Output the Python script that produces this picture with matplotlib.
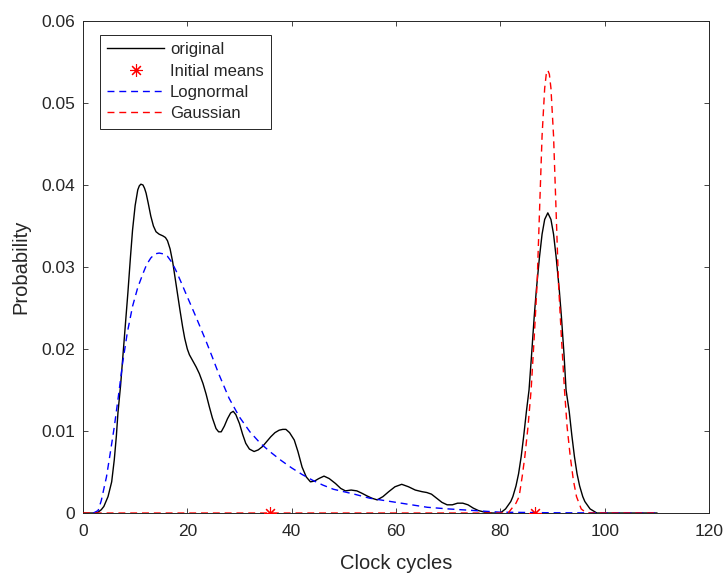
import numpy as np
from matplotlib import pyplot as plt

# data
orig_x = [0, 2.0, 2.9, 3.5, 4.0, 4.8, 5.5, 6.0, 6.4, 6.7, 7.2, 7.6, 8.1, 8.6, 9.1, 9.5,
          10.0, 10.5, 10.8, 11.1, 11.5, 11.8, 12.1, 12.5, 13.0, 13.5, 14.0, 14.6, 15.3,
          15.8, 16.2, 16.7, 17.2, 17.6, 18.1, 18.6, 19.1, 19.5, 20.0, 20.4, 21.0, 21.7,
          22.3, 23.0, 23.6, 24.2, 24.8, 25.5, 26.0, 26.5, 27.1, 27.7, 28.3, 28.8, 29.3,
          30.0, 30.6, 31.2, 31.9, 32.8, 33.6, 34.4, 35.2, 36.0, 36.8, 37.6, 38.3, 38.9,
          39.6, 40.5, 41.2, 42.0, 42.8, 43.6, 44.4, 45.2, 46.2, 47.2, 48.4, 49.4, 50.3,
          51.4, 52.5, 53.5, 54.4, 55.4, 56.4, 57.5, 58.6, 59.8, 61.1, 62.4, 63.7, 65.0,
          65.9, 66.8, 67.8, 68.8, 69.8, 70.8, 71.8, 72.8, 73.8, 74.8, 75.8, 77.0, 78.5,
          80.0, 81.0, 82.0, 82.4, 83.0, 83.5, 84.0, 84.5, 85.0, 85.5, 86.0, 86.5, 86.9,
          87.5, 88.0, 88.5, 89.1, 89.7, 90.2, 90.7, 91.3, 91.7, 92.2, 92.6, 93.2, 93.7,
          94.2, 94.7, 95.2, 95.8, 96.2, 97.2, 98.5, 100, 110]
orig_y = [0, 0, 0.0001, 0.0004, 0.0008, 0.0020, 0.0038, 0.0065, 0.0094, 0.0122, 0.0155,
          0.0187, 0.0228, 0.0268, 0.0312, 0.0345, 0.0375, 0.0394, 0.0399, 0.0401, 0.0400,
          0.0396, 0.0390, 0.0378, 0.0362, 0.0350, 0.0343, 0.0340, 0.0338, 0.0336, 0.0332,
          0.0322, 0.0306, 0.0289, 0.0268, 0.0247, 0.0227, 0.0213, 0.0200, 0.0193, 0.0186,
          0.0178, 0.0170, 0.0158, 0.0145, 0.0130, 0.0116, 0.0103, 0.0099, 0.0099, 0.0106,
          0.0115, 0.0122, 0.0124, 0.0120, 0.0109, 0.0096, 0.0085, 0.0078, 0.0075, 0.0077,
          0.0081, 0.0087, 0.0093, 0.0098, 0.0101, 0.0102, 0.0102, 0.0098, 0.0089, 0.0075,
          0.0056, 0.0044, 0.0038, 0.0039, 0.0042, 0.0045, 0.0042, 0.0036, 0.0030, 0.0027,
          0.0028, 0.0027, 0.0024, 0.0021, 0.0018, 0.0016, 0.0020, 0.0026, 0.0032, 0.0035,
          0.0032, 0.0028, 0.0026, 0.0025, 0.0023, 0.0018, 0.0013, 0.0010, 0.0010, 0.0012,
          0.0012, 0.0010, 0.0006, 0.0003, 0.0001, 0, 0, 0.0005, 0.0014, 0.0020, 0.0033,
          0.0048, 0.0069, 0.0095, 0.0124, 0.0150, 0.0194, 0.0240, 0.0272, 0.0312, 0.0340,
          0.0358, 0.0366, 0.0358, 0.0340, 0.0312, 0.0272, 0.0240, 0.0194, 0.0150, 0.0124,
          0.0095, 0.0069, 0.0048, 0.0033, 0.0020, 0.0014, 0.0005, 0, 0, 0]

logn_x = [2.0, 2.9, 3.5, 4.5, 5.2, 6.0, 6.8, 7.6, 8.5, 9.5, 10.5, 11.5, 12.2, 13.0, 13.8,
          14.6, 15.4, 16.2, 17.0, 17.8, 18.7, 19.7, 21.6, 23.5, 24.8, 26.0, 28.0, 30.0,
          32.0, 34.0, 36.0, 38.0, 40.0, 42.0, 44.0, 46.0, 48.0, 50.0, 52.0, 55.0, 58.0,
          62.0, 66.0, 70.0, 75.0, 80.0, 90.0, 110.0]
logn_y = [0, 0.0003, 0.0015, 0.0044, 0.0072, 0.0105, 0.0143, 0.0183, 0.0220, 0.0252,
          0.0275, 0.0292, 0.0303, 0.0311, 0.0316, 0.0317, 0.0316, 0.0313, 0.0306, 0.0296,
          0.0283, 0.0268, 0.0240, 0.0211, 0.0190, 0.0170, 0.0140, 0.0117, 0.0099, 0.0085,
          0.0074, 0.0064, 0.0055, 0.0047, 0.0040, 0.0034, 0.0029, 0.0026, 0.0023, 0.0018,
          0.0015, 0.0011, 0.0007, 0.0005, 0.0003, 0.0001, 0.00003, 0]

gauss_x = [0, 81.5, 83.0, 83.6, 84.2, 84.7, 85.3, 85.9, 86.5, 87.05, 87.5, 88.0, 88.5,
           88.8, 89.1, 89.4, 89.7, 90.2, 90.7, 91.15, 91.7, 92.3, 92.8, 93.4, 94.0, 94.6,
           95.5, 96.5, 110]
gauss_y = [0, 0, 0.0012, 0.0020, 0.0045, 0.0069, 0.0105, 0.0150, 0.0215, 0.0280, 0.0366,
           0.0460, 0.0518, 0.0535, 0.0540, 0.0535, 0.0518, 0.0460, 0.0366, 0.0280, 0.0215,
           0.0150, 0.0105, 0.0069, 0.0040, 0.0020, 0.0005, 0, 0]

init_means = [35.9, 86.7]

x_ticks = [0, 20, 40, 60, 80, 100, 120]
y_ticks = [0, 0.01, 0.02, 0.03, 0.04, 0.05, 0.06]
y_ticklabels = ['0', '0.01', '0.02', '0.03', '0.04', '0.05', '0.06']

plt.rcParams['font.family'] = ['Liberation Sans', 'DejaVu Sans']
ax_col = '0.15'

fig = plt.figure(figsize=(7.26, 5.75), dpi=100)
ax = fig.add_axes([0.1143, 0.1078, 0.8623, 0.8557])

ax.plot(orig_x, orig_y, color='k', lw=1.0, label='original', zorder=3)
ax.plot(init_means, [0, 0], ls='none', marker=(8, 2, 0), ms=9, mew=0.8,
        color='#ff0000', label='Initial means', zorder=5)
ax.plot(logn_x, logn_y, color='#0000ff', lw=1.0, dashes=(5, 3.5),
        label='Lognormal', zorder=4)
ax.plot(gauss_x, gauss_y, color='#ff0000', lw=1.0, dashes=(5, 3.5),
        label='Gaussian', zorder=4)

ax.set_xlim(0, 120)
ax.set_ylim(0, 0.06)
ax.set_xticks(x_ticks)
ax.set_yticks(y_ticks)
ax.set_yticklabels(y_ticklabels)
ax.tick_params(direction='in', length=3.5, width=0.6, top=True, right=True,
               labelsize=12.5, colors=ax_col, pad=5.5)
ax.tick_params(axis='x', pad=8)
for s in ax.spines.values():
    s.set_color(ax_col)
    s.set_linewidth(0.7)

ax.set_xlabel('Clock cycles', fontsize=14.5, color=ax_col, labelpad=11)
ax.set_ylabel('Probability', fontsize=14.5, color=ax_col, labelpad=8)

leg = ax.legend(loc='upper left', bbox_to_anchor=(0.027, 0.972), borderaxespad=0,
                fancybox=False, framealpha=1, edgecolor=ax_col, fontsize=12,
                handlelength=3.4, handletextpad=0.35, labelspacing=0.38,
                borderpad=0.45)
leg.get_frame().set_linewidth(0.7)
for t in leg.get_texts():
    t.set_color(ax_col)

fig.savefig('out.png', dpi=100)
